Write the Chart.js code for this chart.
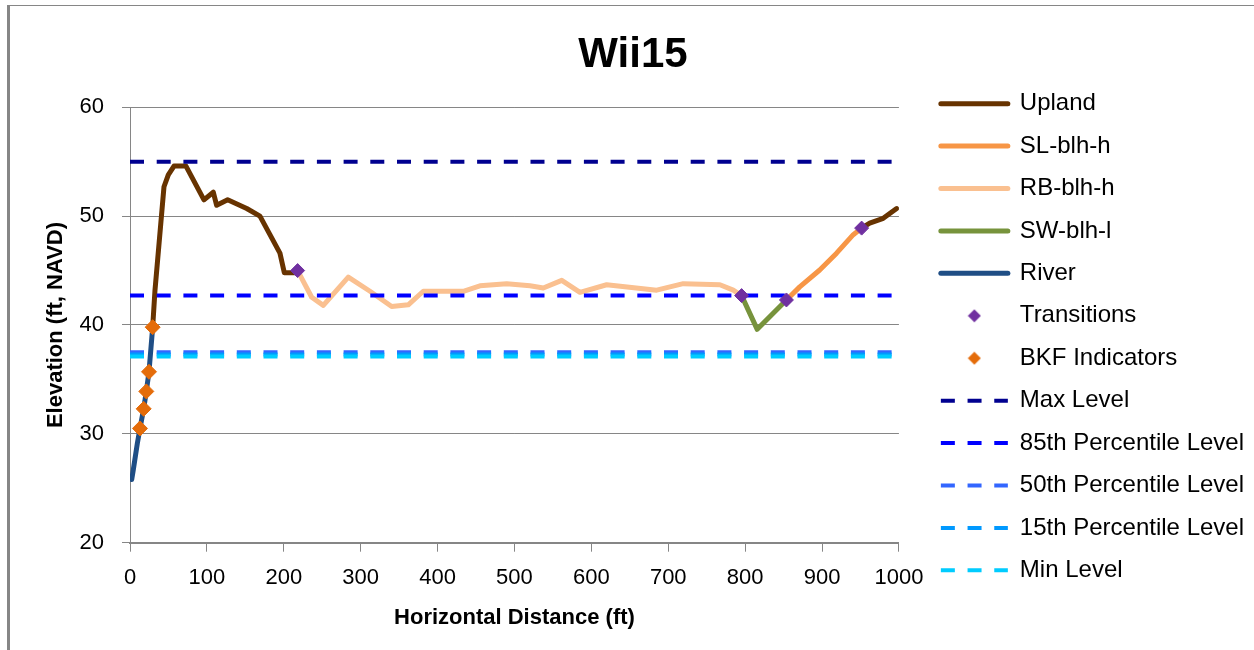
<!DOCTYPE html>
<html>
<head>
<meta charset="utf-8">
<script src="https://cdn.jsdelivr.net/npm/chart.js@4.4.1/dist/chart.umd.min.js"></script>
<style>
  body { margin: 0; background: #fff; }
  #wrap { position: relative; width: 1254px; height: 650px; }
  #moldura { position: absolute; left: 7px; top: 5px; right: -10px; bottom: -10px;
             border-left: 3px solid #868686; border-top: 1px solid #868686; pointer-events: none; }
</style>
</head>
<body>
<div id="wrap">
  <canvas id="perfil" width="1254" height="650"></canvas>
  <div id="moldura"></div>
</div>
<script>
// perfil Wii15
const uplandX = [29.5, 32.5, 44.2, 49.8, 57.2, 72.8, 96.2, 108.3, 112.7, 127, 151.8, 169, 182, 195, 200.7, 216.8, 218, null, 951.5, 962, 979.6, 997];
const uplandY = [39.8, 43.2, 52.7, 53.8, 54.6, 54.6, 51.5, 52.2, 51.0, 51.5, 50.7, 50.0, 48.3, 46.6, 44.8, 44.8, 45.0, null, 48.9, 49.35, 49.8, 50.7];

const slX = [853.7, 871, 897, 918.9, 940.6, 951.5];
const slY = [42.3, 43.5, 45.05, 46.6, 48.3, 48.9];

const rbX = [218, 236.3, 251.4, 283.9, 312.1, 340.3, 361.9, 381.4, 433.4, 455.1, 489.9, 520.2, 537.5, 561.5, 585.2, 619.9, 684.9, 719.5, 767.2, 784.5, 795.4];
const rbY = [45.0, 42.55, 41.8, 44.4, 43.1, 41.7, 41.85, 43.1, 43.1, 43.6, 43.8, 43.6, 43.4, 44.1, 43.0, 43.7, 43.2, 43.8, 43.7, 43.2, 42.7];

const swX = [795.4, 815.7, 853.7];
const swY = [42.7, 39.6, 42.3];

const riverX = [2.2, 4.3, 9.5, 13, 17.8, 21.2, 24.7, 29.5];
const riverY = [25.8, 26.7, 29.1, 30.5, 32.3, 33.9, 35.7, 39.8];

const transX = [218, 795.4, 853.7, 951.5];
const transY = [45.0, 42.7, 42.3, 48.9];

const bkfX = [13, 17.8, 21.2, 24.7, 29.5];
const bkfY = [30.5, 32.3, 33.9, 35.7, 39.8];

// niveis de agua (linhas tracejadas de 0 a 1000 ft)
const nivelX = [0, 1000];
const nivelNomes = ['Max Level', '85th Percentile Level', '50th Percentile Level', '15th Percentile Level', 'Min Level'];
const nivelValores = [55.0, 42.7, 37.5, 37.3, 37.1];
const nivelCores = ['#000090', '#0000ff', '#3366ff', '#0099ff', '#00ccff'];

function pontos(xs, ys) {
    return xs.map((x, i) => ({ x: x, y: ys[i] }));
}

function linha(label, xs, ys, cor) {
    return {
        label: label,
        data: pontos(xs, ys),
        showLine: true,
        borderColor: cor,
        backgroundColor: cor,
        borderWidth: 5,
        borderJoinStyle: 'round',
        borderCapStyle: 'round',
        pointRadius: 0,
        pointHoverRadius: 0,
        order: 10
    };
}

function marcador(label, xs, ys, cor, raio) {
    return {
        label: label,
        data: pontos(xs, ys),
        showLine: false,
        pointStyle: 'rectRot',
        pointRadius: raio,
        pointHoverRadius: raio,
        pointBorderWidth: 1,
        borderColor: cor,
        backgroundColor: cor,
        order: 0
    };
}

const datasets = [
    linha('Upland', uplandX, uplandY, '#673300'),
    linha('SL-blh-h', slX, slY, '#f79646'),
    linha('RB-blh-h', rbX, rbY, '#fac090'),
    linha('SW-blh-l', swX, swY, '#77933c'),
    linha('River', riverX, riverY, '#1f4e85'),
    marcador('Transitions', transX, transY, '#7030a0', 7),
    marcador('BKF Indicators', bkfX, bkfY, '#e46c0a', 7.5)
];

nivelNomes.forEach((nome, i) => {
    datasets.push({
        label: nome,
        data: pontos(nivelX, [nivelValores[i], nivelValores[i]]),
        showLine: true,
        borderColor: nivelCores[i],
        backgroundColor: nivelCores[i],
        borderWidth: 4,
        borderDash: [14, 12.7],
        borderCapStyle: 'butt',
        pointRadius: 0,
        pointHoverRadius: 0,
        order: 5 - i
    });
});

// icone losango para a legenda
function losango(cor) {
    const c = document.createElement('canvas');
    c.width = 14;
    c.height = 14;
    const g = c.getContext('2d');
    g.fillStyle = cor;
    g.beginPath();
    g.moveTo(7, 0.5);
    g.lineTo(13.5, 7);
    g.lineTo(7, 13.5);
    g.lineTo(0.5, 7);
    g.closePath();
    g.fill();
    return c;
}

Chart.defaults.font.family = "'Liberation Sans', Arial, sans-serif";
Chart.defaults.color = '#000';

const configPerfil = {
    type: 'scatter',
    data: { datasets: datasets },
    options: {
        responsive: false,
        animation: false,
        devicePixelRatio: 1,
        layout: {
            padding: { left: 12, top: 24, right: 0, bottom: 0 }
        },
        scales: {
            x: {
                type: 'linear',
                min: 0,
                max: 1000,
                ticks: {
                    stepSize: 100, font: { size: 22 }, padding: 13, color: '#000',
                    callback: function (v) { return String(v); }
                },
                grid: { drawOnChartArea: false, tickLength: 9, color: '#868686' },
                border: { color: '#868686', width: 2 },
                title: {
                    display: true,
                    text: 'Horizontal Distance (ft)',
                    font: { size: 22, weight: 'bold' },
                    padding: { top: 0, bottom: 18.8 }
                },
                afterFit: function (s) { s.height = 107.3; }
            },
            y: {
                min: 20,
                max: 60,
                ticks: { stepSize: 10, font: { size: 22 }, padding: 18, color: '#000' },
                grid: { color: '#868686', tickLength: 8 },
                border: { color: '#868686', width: 1 },
                title: {
                    display: true,
                    text: 'Elevation (ft, NAVD)',
                    font: { size: 22, weight: 'bold' },
                    padding: { top: 30.8, bottom: 0 }
                },
                afterFit: function (s) { s.width = 118; }
            },
            // eixo vazio so para afastar a legenda
            espaco: {
                position: 'right',
                display: true,
                grid: { display: false },
                ticks: { display: false },
                border: { display: false },
                afterFit: function (s) { s.width = 23.5; }
            }
        },
        plugins: {
            title: {
                display: true,
                text: 'Wii15',
                color: '#000',
                font: { size: 42, weight: 'bold' },
                padding: { top: 5.8, bottom: 27.1 }
            },
            legend: {
                position: 'right',
                align: 'center',
                maxWidth: 400,
                labels: {
                    usePointStyle: true,
                    pointStyleWidth: 67,
                    boxHeight: 10,
                    padding: 18.43,
                    color: '#000',
                    font: { size: 24 },
                    generateLabels: function (chart) {
                        return chart.data.datasets.map((ds, i) => ({
                            text: ds.label,
                            fillStyle: ds.backgroundColor,
                            strokeStyle: ds.borderColor,
                            lineWidth: ds.showLine ? ds.borderWidth : 0,
                            lineDash: ds.borderDash || [],
                            lineCap: ds.borderCapStyle || 'butt',
                            pointStyle: ds.showLine ? 'line' : losango(ds.backgroundColor),
                            fontColor: '#000',
                            hidden: false,
                            datasetIndex: i
                        }));
                    }
                }
            },
            tooltip: { enabled: false }
        }
    }
};

new Chart(document.getElementById('perfil').getContext('2d'),
    configPerfil
);
</script>
</body>
</html>
